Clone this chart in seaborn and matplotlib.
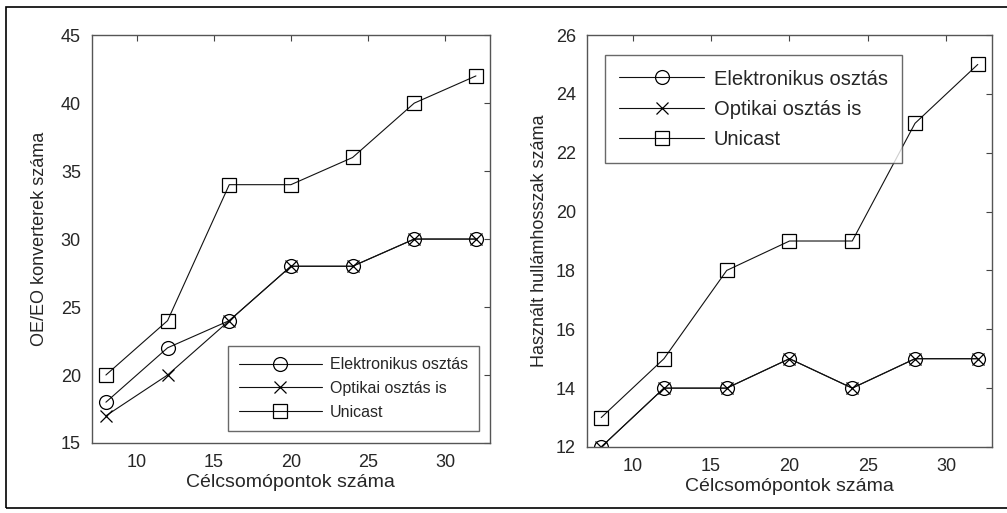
import matplotlib
matplotlib.use("Agg")
import matplotlib.pyplot as plt
import seaborn as sns
import pandas as pd
from matplotlib.patches import Rectangle

sns.set_style("white")
plt.rcParams['font.family'] = ['Liberation Sans', 'DejaVu Sans']

nodes = [8, 12, 16, 20, 24, 28, 32]
series_names = ["Elektronikus osztás", "Optikai osztás is", "Unicast"]

conv_elektronikus = [18, 22, 24, 28, 28, 30, 30]
conv_optikai = [17, 20, 24, 28, 28, 30, 30]
conv_unicast = [20, 24, 34, 34, 36, 40, 42]

wl_elektronikus = [12, 14, 14, 15, 14, 15, 15]
wl_optikai = [12, 14, 14, 15, 14, 15, 15]
wl_unicast = [13, 15, 18, 19, 19, 23, 25]

markers = {"Elektronikus osztás": "o", "Optikai osztás is": "x", "Unicast": "s"}
msizes = {"Elektronikus osztás": 10, "Optikai osztás is": 9, "Unicast": 10.5}

fig = plt.figure(figsize=(10.07, 5.13), dpi=100)
ax1 = fig.add_axes([0.0914, 0.1365, 0.395, 0.795])
ax2 = fig.add_axes([0.583, 0.1287, 0.402, 0.803])

fig.patches.append(Rectangle((0.006, 0.01), 1.2, 0.976, transform=fig.transFigure,
                             fill=False, edgecolor='black', linewidth=1.2))


def draw(ax, vals, ylim, yticks, ylabel, legloc, legfs, bbox, hl, ls, ylp):
    for name, v in zip(series_names, vals):
        df = pd.DataFrame({"x": nodes, "y": v})
        sns.lineplot(data=df, x="x", y="y", ax=ax, color="#111111", linewidth=0.8,
                     marker=markers[name], markersize=msizes[name],
                     markerfacecolor="none", markeredgecolor="black",
                     markeredgewidth=0.9, label=name)
    ax.set_xlim(7.1, 32.9)
    ax.set_ylim(*ylim)
    ax.set_xticks([10, 15, 20, 25, 30])
    ax.set_yticks(yticks)
    ax.tick_params(direction='in', top=True, right=True, length=4, labelsize=13,
                   color='#444444', pad=8)
    for s in ax.spines.values():
        s.set_color('#555555')
        s.set_linewidth(1.0)
    ax.set_xlabel("Célcsomópontok száma", fontsize=14, labelpad=2)
    ax.set_ylabel(ylabel, fontsize=13, labelpad=ylp)
    leg = ax.legend(loc=legloc, bbox_to_anchor=bbox, fontsize=legfs, handlelength=hl,
                    frameon=True, fancybox=False, edgecolor='#444444',
                    borderpad=0.7, labelspacing=ls, handletextpad=0.5)
    leg.get_frame().set_linewidth(1.0)


draw(ax1, [conv_elektronikus, conv_optikai, conv_unicast], (15, 45),
     [15, 20, 25, 30, 35, 40, 45], "OE/EO konverterek száma", "lower right", 11.5,
     (0.993, 0.01), 5.2, 0.55, 9)
draw(ax2, [wl_elektronikus, wl_optikai, wl_unicast], (12, 26),
     [12, 14, 16, 18, 20, 22, 24, 26], "Használt hullámhosszak száma", "upper left", 14.5,
     (0.02, 0.975), 4.2, 0.55, 6)

fig.savefig("out.png", dpi=100)
